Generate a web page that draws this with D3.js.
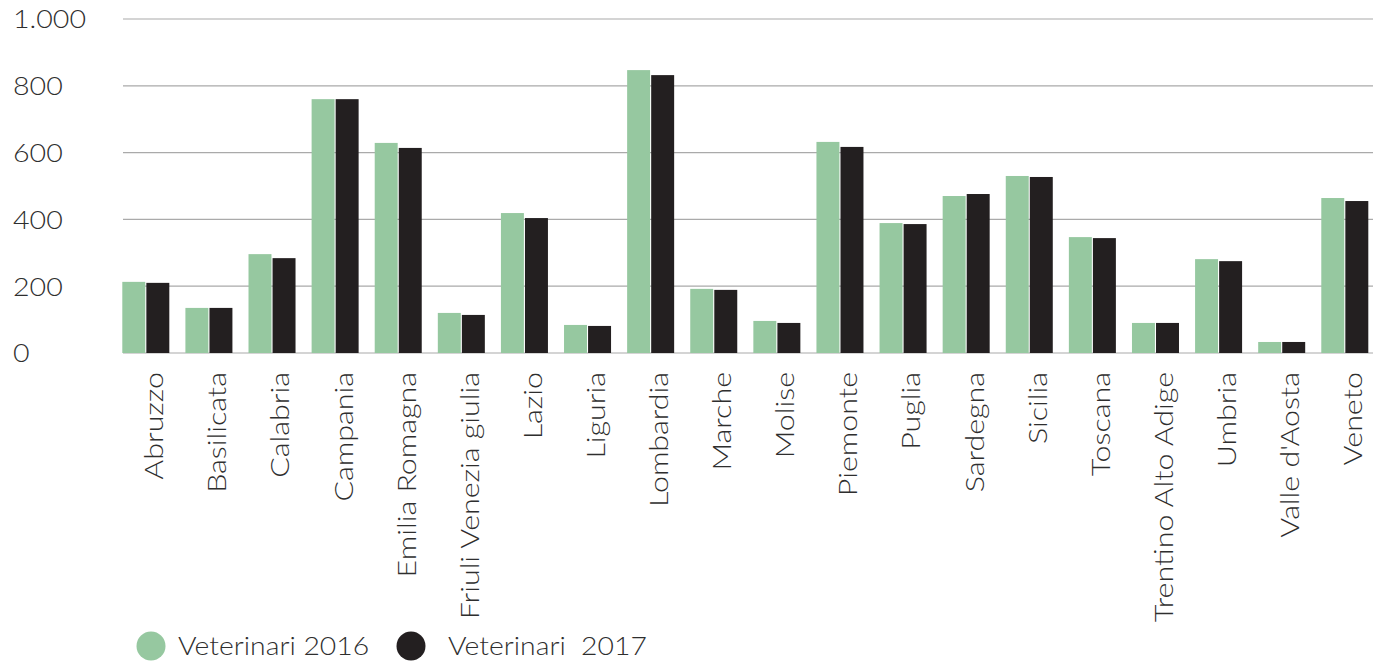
<!DOCTYPE html>
<html>
<head>
<meta charset="utf-8">
<script src="https://cdn.jsdelivr.net/npm/d3@7"></script>
<style>
  html, body { margin: 0; padding: 0; background: #ffffff; }
  svg { display: block; }
  text { font-family: Lato, "Open Sans", sans-serif; font-weight: 300; fill: #2e2e2e; }
</style>
</head>
<body>
<svg id="chart" width="1373" height="661"></svg>
<script>
const categories = ["Abruzzo","Basilicata","Calabria","Campania","Emilia Romagna","Friuli Venezia giulia","Lazio","Liguria","Lombardia","Marche","Molise","Piemonte","Puglia","Sardegna","Sicilia","Toscana","Trentino Alto Adige","Umbria","Valle d'Aosta","Veneto"];
const values2016 = [213,135,296,760,629,120,419,84,847,192,96,632,389,470,530,347,90,281,33,464];
const values2017 = [210,135,284,760,614,114,404,81,832,189,90,617,386,476,527,344,90,275,33,455];
const seriesNames = ["Veterinari 2016", "Veterinari  2017"];
const yTicks = [0,200,400,600,800,1000];
const yTickLabels = ["0","200","400","600","800","1.000"];

const colors = ["#96c8a0", "#231f20"];
const svg = d3.select("#chart");

const x = d3.scaleBand().domain(categories).range([122.3, 1368.3]).paddingInner(0.255).paddingOuter(0);
const xs = d3.scaleBand().domain([0,1]).range([0, x.bandwidth()]).paddingInner(0.045);
const y = d3.scaleLinear().domain([0, 1000]).range([353, 19]);

// gridlines
svg.append("g").selectAll("line").data(yTicks).join("line")
  .attr("x1", 123).attr("x2", 1373)
  .attr("y1", d => y(d)).attr("y2", d => y(d))
  .attr("stroke", "#aaaaaa").attr("stroke-width", 1.2);

// y labels
svg.append("g").selectAll("text").data(yTicks).join("text")
  .attr("transform", d => `translate(13,${y(d)}) scale(1.1,1)`)
  .attr("dy", "0.36em")
  .attr("font-size", 26)
  .text((d, i) => yTickLabels[i]);

// bars
const series = [values2016, values2017];
series.forEach((vals, si) => {
  svg.append("g").selectAll("rect").data(categories).join("rect")
    .attr("x", d => x(d) + xs(si))
    .attr("width", xs.bandwidth())
    .attr("y", (d, i) => y(vals[i]))
    .attr("height", (d, i) => y(0) - y(vals[i]))
    .attr("fill", colors[si]);
});

// x labels
svg.append("g").selectAll("text").data(categories).join("text")
  .attr("transform", d => `translate(${x(d) + x.step() / 2},372) rotate(-90) scale(1.17,1)`)
  .attr("text-anchor", "end")
  .attr("dy", "0.36em")
  .attr("font-size", 26)
  .text(d => d);

// legend
const legendX = [151, 411];
const legendTextX = [178, 448];
const legend = svg.append("g");
seriesNames.forEach((name, i) => {
  legend.append("circle").attr("cx", legendX[i]).attr("cy", 646).attr("r", 14.5).attr("fill", colors[i]);
  legend.append("text")
    .attr("transform", `translate(${legendTextX[i]},646) scale(1.09,1)`)
    .attr("dy", "0.36em")
    .attr("font-size", 26).attr("xml:space", "preserve").style("white-space", "pre").text(name);
});
</script>
</body>
</html>
